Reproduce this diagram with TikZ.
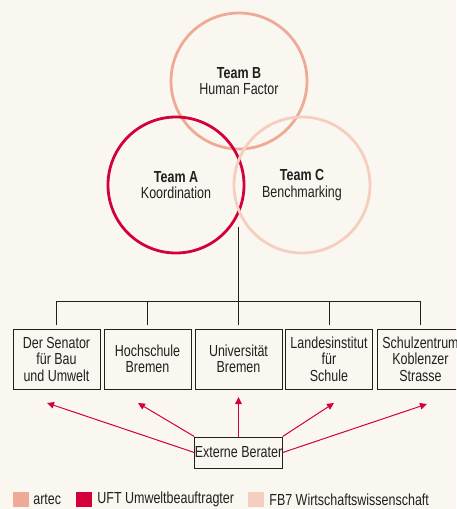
\documentclass[tikz,border=0pt]{standalone}
\usepackage{fontspec}
\setmainfont{Liberation Sans}[FakeStretch=0.78]
\usetikzlibrary{arrows.meta,positioning,calc}
\definecolor{artec}{HTML}{EFA997}
\definecolor{uft}{HTML}{D4003A}
\definecolor{fbsieben}{HTML}{F6CEC0}
\definecolor{paper}{HTML}{FAF7F1}
\definecolor{ink}{HTML}{231F20}
\tikzstyle{team}=[circle,draw,minimum size=136,inner sep=0,line width=2.8,align=center,text=ink]
\tikzstyle{partner}=[draw=ink,line width=1,minimum width=87,minimum height=60,inner sep=0,align=center,text=ink]
\tikzstyle{bus}=[draw=ink,line width=1]
\tikzstyle{advice}=[draw=uft,line width=1,-{Triangle[length=7pt,width=6.5pt]}]
\tikzstyle{legbox}=[minimum width=16,minimum height=15,inner sep=0]

\begin{document}
\begin{tikzpicture}[x=1pt,y=-1pt,font=\fontsize{16}{16.5}\selectfont]
  \clip (0,0) rectangle (456,509);
  \fill[paper] (0,0) rectangle (456,509);

  % the three teams
  \node[team,draw=artec] (TB) at (239,81) {\textbf{Team B}\\Human Factor};
  \node[team,draw=uft] (TA) at (176,185) {\textbf{Team A}\\Koordination};
  \node[team,draw=fbsieben] (TC) at (302,185) {\textbf{Team C}\\Benchmarking};

  % partners
  \foreach \i/\x/\txt in {1/56.5/{Der Senator\\für Bau\\und Umwelt},
                          2/147.5/{Hochschule\\Bremen},
                          3/238.5/{Universität\\Bremen},
                          4/329/{Landesinstitut\\für\\Schule},
                          5/420.5/{Schulzentrum\\Koblenzer\\Strasse}}
        \node[partner] (P\i) at (\x,359) {\txt};

  \coordinate (stem) at (238.5,227);
  \coordinate (hub) at (238.5,301);
  \draw[bus] (stem) -- (hub);
  \foreach \i in {1,...,5}
        \draw[bus,shorten >=4pt] (hub) -| (P\i.north);

  % external advisers
  \node[partner,minimum height=31] (EB) at (238.5,452.5) {Externe Berater};
  \coordinate (a1) at (47,403);
  \coordinate (a2) at (138,403);
  \coordinate (a3) at (238.5,397);
  \coordinate (a4) at (334,403);
  \coordinate (a5) at (427,404);
  \draw[advice] (EB.west) -- (a1);
  \draw[advice] (EB.north west) -- (a2);
  \draw[advice] (EB.north) -- (a3);
  \draw[advice] (EB.north east) -- (a4);
  \draw[advice] (EB.east) -- (a5);

  % legend
  \node[legbox,fill=artec] (L1) at (21,499.5) {};
  \node[right=4pt of L1,inner sep=0,text=ink] (T1) {artec};
  \node[legbox,fill=uft] (L2) at (84,499.5) {};
  \node[right=5pt of L2,inner sep=0,text=ink] (T2) {UFT Umweltbeauftragter};
  \node[legbox,fill=fbsieben] (L3) at (256,499.5) {};
  \node[right=5pt of L3,inner sep=0,text=ink] (T3) {FB7 Wirtschaftswissenschaft};
\end{tikzpicture}
\end{document}
